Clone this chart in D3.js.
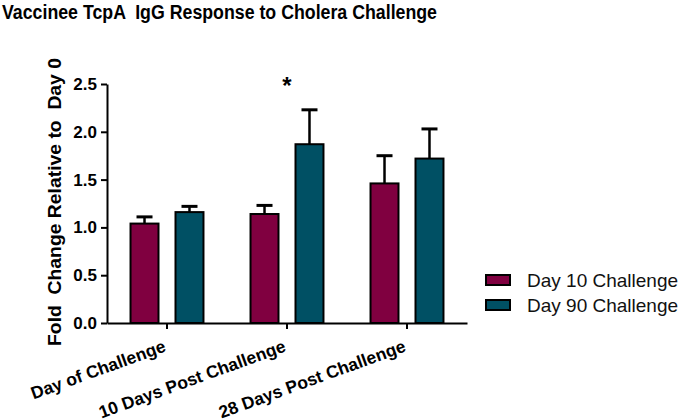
<!DOCTYPE html>
<html>
<head>
<meta charset="utf-8">
<script src="https://cdn.jsdelivr.net/npm/d3@7"></script>
<style>
  html, body { margin: 0; padding: 0; background: #fff; }
  svg { display: block; font-family: "Liberation Sans", Arial, sans-serif; }
</style>
</head>
<body>
<main></main>
<script>
const width = 680;
const height = 420;

const categories = ["Day of Challenge", "10 Days Post Challenge", "28 Days Post Challenge"];
const seriesNames = ["Day 10 Challenge", "Day 90 Challenge"];
const day10 = [1.04, 1.14, 1.46];
const day10Err = [0.07, 0.09, 0.29];
const day90 = [1.16, 1.87, 1.72];
const day90Err = [0.06, 0.36, 0.31];
const yTicks = [0, 0.5, 1.0, 1.5, 2.0, 2.5];
const colors = ["rgb(128, 0, 64)", "rgb(0, 80, 100)"];

const svg = d3
  .select("main")
  .append("svg")
  .attr("width", width)
  .attr("height", height)
  .attr("viewBox", `0 0 ${width} ${height}`);

const x0 = d3
  .scaleBand()
  .domain(categories)
  .range([107, 467])
  .paddingInner(0.392)
  .paddingOuter(0.196);

const x1 = d3
  .scaleBand()
  .domain(seriesNames)
  .range([0, x0.bandwidth()])
  .paddingInner(0.378);

const y = d3.scaleLinear().domain([0, 2.5]).range([323, 84]);

// title
svg
  .append("text")
  .attr("x", 2)
  .attr("y", 19)
  .attr("font-size", 20)
  .attr("font-weight", "bold")
  .attr("textLength", 435)
  .attr("lengthAdjust", "spacingAndGlyphs")
  .style("white-space", "pre")
  .text("Vaccinee TcpA  IgG Response to Cholera Challenge");

// y axis label
svg
  .append("text")
  .attr("transform", `translate(61, 202) rotate(-90)`)
  .attr("text-anchor", "middle")
  .attr("font-size", 19)
  .attr("font-weight", "bold")
  .attr("textLength", 288)
  .attr("lengthAdjust", "spacingAndGlyphs")
  .style("white-space", "pre")
  .text("Fold  Change Relative to  Day 0");

const rows = categories.map((c, i) => ({
  category: c,
  values: [
    { name: seriesNames[0], value: day10[i], err: day10Err[i] },
    { name: seriesNames[1], value: day90[i], err: day90Err[i] },
  ],
}));

const groups = svg
  .append("g")
  .selectAll("g")
  .data(rows)
  .enter()
  .append("g")
  .attr("transform", (d) => `translate(${x0(d.category)}, 0)`);

const bars = groups
  .selectAll("g")
  .data((d) => d.values)
  .enter()
  .append("g");

// error bars (upper only)
bars
  .append("line")
  .attr("x1", (d) => x1(d.name) + x1.bandwidth() / 2)
  .attr("x2", (d) => x1(d.name) + x1.bandwidth() / 2)
  .attr("y1", (d) => y(d.value))
  .attr("y2", (d) => y(d.value + d.err))
  .attr("stroke", "#000")
  .attr("stroke-width", 2.5);

bars
  .append("line")
  .attr("x1", (d) => x1(d.name) + x1.bandwidth() / 2 - 8)
  .attr("x2", (d) => x1(d.name) + x1.bandwidth() / 2 + 8)
  .attr("y1", (d) => y(d.value + d.err))
  .attr("y2", (d) => y(d.value + d.err))
  .attr("stroke", "#000")
  .attr("stroke-width", 3);

bars
  .append("rect")
  .attr("x", (d) => x1(d.name))
  .attr("y", (d) => y(d.value))
  .attr("width", x1.bandwidth())
  .attr("height", (d) => y(0) - y(d.value))
  .attr("fill", (d, i) => colors[i])
  .attr("stroke", "#000")
  .attr("stroke-width", 2);

// y axis
const yAxis = d3
  .axisLeft(y)
  .tickValues(yTicks)
  .tickFormat(d3.format(".1f"))
  .tickSize(6)
  .tickSizeOuter(0);

const yG = svg.append("g").attr("transform", "translate(107, 0)").call(yAxis);
yG.select(".domain").attr("stroke-width", 2);
yG.selectAll(".tick line").attr("stroke-width", 2);
yG
  .selectAll(".tick text")
  .attr("font-size", 17)
  .attr("font-weight", "bold")
  .attr("font-family", "Liberation Sans, Arial, sans-serif")
  .attr("x", -10)
  .attr("fill", "#000");

// x axis
const xAxis = d3.axisBottom(x0).tickSize(6).tickSizeOuter(0);
const xG = svg.append("g").attr("transform", `translate(0, ${y(0)})`).call(xAxis);
xG.select(".domain").attr("stroke-width", 2);
xG.selectAll(".tick line").attr("stroke-width", 2);
xG
  .selectAll(".tick text")
  .attr("font-size", 17.5)
  .attr("font-weight", "bold")
  .attr("font-family", "Liberation Sans, Arial, sans-serif")
  .attr("fill", "#000")
  .attr("text-anchor", "end")
  .attr("dy", null)
  .attr("y", null)
  .attr("transform", "translate(0, 28) rotate(-20)");

// significance marker
svg
  .append("text")
  .attr("x", x0(categories[1]) + x0.bandwidth() / 2)
  .attr("y", 94)
  .attr("text-anchor", "middle")
  .attr("font-size", 24)
  .attr("font-weight", "bold")
  .text("*");

// legend
const legend = svg.append("g").attr("transform", "translate(486, 275)");
const item = legend
  .selectAll("g")
  .data(seriesNames)
  .enter()
  .append("g")
  .attr("transform", (d, i) => `translate(0, ${i * 25})`);

item
  .append("rect")
  .attr("width", 24)
  .attr("height", 10)
  .attr("fill", (d, i) => colors[i])
  .attr("stroke", "#000")
  .attr("stroke-width", 2);

item
  .append("text")
  .attr("x", 41)
  .attr("y", 5)
  .attr("dy", "0.35em")
  .attr("font-size", 19)
  .attr("fill", "#111")
  .text((d) => d);
</script>
</body>
</html>
